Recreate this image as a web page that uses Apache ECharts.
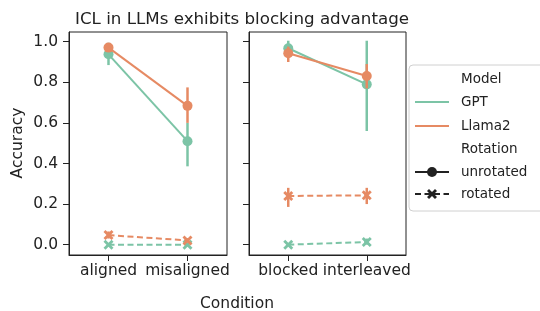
<!DOCTYPE html>
<html>
<head>
<meta charset="utf-8">
<script src="https://cdn.jsdelivr.net/npm/echarts@6/dist/echarts.min.js"></script>
<style>
  html, body { margin: 0; padding: 0; background: #fff; }
  #app { width: 540px; height: 311px; }
</style>
</head>
<body>
<div id="app"></div>
<script>
// categories of each panel
const leftCats = ['aligned', 'misaligned'];
const rightCats = ['blocked', 'interleaved'];
const yTicks = [0, 0.2, 0.4, 0.6, 0.8, 1.0];

// mean accuracy per category
const gptUnrotL = [0.938, 0.51];
const llamaUnrotL = [0.971, 0.684];
const gptRotL = [0.0, 0.0];
const llamaRotL = [0.047, 0.021];

const gptUnrotR = [0.968, 0.79];
const llamaUnrotR = [0.943, 0.831];
const gptRotR = [0.0, 0.013];
const llamaRotR = [0.24, 0.243];

// error bars [low, high]
const gptUnrotErrL = [[0.885, 0.995], [0.386, 0.6]];
const llamaUnrotErrL = [[0.95, 0.99], [0.6, 0.775]];
const gptRotErrL = [[0, 0.005], [0, 0.005]];
const llamaRotErrL = [[0.03, 0.065], [0.01, 0.032]];

const gptUnrotErrR = [[0.93, 1.005], [0.56, 1.005]];
const llamaUnrotErrR = [[0.9, 0.976], [0.77, 0.89]];
const gptRotErrR = [[0, 0.005], [0.0, 0.03]];
const llamaRotErrR = [[0.186, 0.28], [0.2, 0.28]];

const GREEN = '#7cc4a6';
const ORANGE = '#e68a63';
const INK = '#222';
const FONT = 'DejaVu Sans';
const X_SYMBOL = 'path://M2,0 L5,3 L8,0 L10,2 L7,5 L10,8 L8,10 L5,7 L2,10 L0,8 L3,5 L0,2 Z';
const DASH = [6, 3.5];

function lineSeries(name, data, color, rotated, idx) {
  return {
    name: name,
    type: 'line',
    xAxisIndex: idx,
    yAxisIndex: idx,
    data: data,
    symbol: rotated ? X_SYMBOL : 'circle',
    symbolSize: 10,
    showSymbol: true,
    itemStyle: { color: color },
    lineStyle: { color: color, width: 2, type: rotated ? DASH : 'solid' },
    emphasis: { disabled: true },
    z: color === ORANGE ? 4 : 3,
    animation: false
  };
}

function errSeries(errs, color, idx) {
  return {
    type: 'custom',
    xAxisIndex: idx,
    yAxisIndex: idx,
    data: errs.map((e, i) => [i, e[0], e[1]]),
    renderItem: function (params, api) {
      const p0 = api.coord([api.value(0), api.value(1)]);
      const p1 = api.coord([api.value(0), api.value(2)]);
      return {
        type: 'line',
        shape: { x1: p0[0], y1: p0[1], x2: p1[0], y2: p1[1] },
        style: { stroke: color, lineWidth: 2.5 }
      };
    },
    z: color === ORANGE ? 4 : 3,
    animation: false
  };
}

function xAxis(cats, idx) {
  return {
    type: 'category',
    gridIndex: idx,
    data: cats,
    boundaryGap: true,
    axisLine: { show: true, onZero: false, lineStyle: { color: INK, width: 1 } },
    axisTick: { show: true, alignWithLabel: true, length: 6, lineStyle: { color: INK } },
    axisLabel: { color: INK, fontSize: 15.5, fontFamily: FONT, margin: 8, interval: 0 },
    splitLine: { show: false }
  };
}

function yAxis(idx, showLabels) {
  return {
    type: 'value',
    gridIndex: idx,
    min: -0.051,
    max: 1.048,
    axisLine: { show: true, onZero: false, lineStyle: { color: INK, width: 1 } },
    axisTick: { show: true, length: 6, lineStyle: { color: INK }, customValues: yTicks },
    axisLabel: {
      show: showLabels, color: INK, fontSize: 15.5, fontFamily: FONT, margin: 11,
      customValues: yTicks,
      formatter: v => v.toFixed(1)
    },
    splitLine: { show: false }
  };
}

// legend built from graphic elements
const rowY = [79, 102, 126, 149, 172, 194];
const legendFont = '13.5px "DejaVu Sans"';
function legendText(text, y) {
  return { type: 'text', x: 461, y: y, z: 11, style: { text: text, font: legendFont, fill: INK, verticalAlign: 'middle' } };
}
function legendLine(y, color, dashed) {
  return { type: 'line', z: 11, shape: { x1: 415, y1: y, x2: 449, y2: y }, style: { stroke: color, lineWidth: 2, lineDash: dashed ? DASH : null } };
}
const legendGraphic = [
  {
    type: 'rect', x: 409, y: 65, z: 10,
    shape: { x: 0, y: 0, width: 140, height: 146, r: 4 },
    style: { fill: '#fff', stroke: '#d0d0d0', lineWidth: 1 }
  },
  legendText('Model', rowY[0]),
  legendLine(rowY[1], GREEN, false),
  legendText('GPT', rowY[1]),
  legendLine(rowY[2], ORANGE, false),
  legendText('Llama2', rowY[2]),
  legendText('Rotation', rowY[3]),
  legendLine(rowY[4], INK, false),
  { type: 'circle', z: 12, shape: { cx: 432, cy: rowY[4], r: 5 }, style: { fill: INK } },
  legendText('unrotated', rowY[4]),
  legendLine(rowY[5], INK, true),
  {
    type: 'polygon', z: 12, x: 427, y: rowY[5] - 5,
    shape: { points: [[2, 0], [5, 3], [8, 0], [10, 2], [7, 5], [10, 8], [8, 10], [5, 7], [2, 10], [0, 8], [3, 5], [0, 2]] },
    style: { fill: INK }
  },
  legendText('rotated', rowY[5])
];

const myChart = echarts.init(document.getElementById('app'), null, { renderer: 'canvas' });
const option = {
  backgroundColor: '#fff',
  animation: false,
  textStyle: { fontFamily: FONT },
  title: {
    text: 'ICL in LLMs exhibits blocking advantage',
    left: 237, top: 6, textAlign: 'center',
    textStyle: { fontSize: 16.7, fontWeight: 'normal', color: INK, fontFamily: FONT }
  },
  grid: [
    { left: 69, right: 313, top: 32, bottom: 56, show: true, borderColor: INK, borderWidth: 1, backgroundColor: 'transparent' },
    { left: 249, right: 134, top: 32, bottom: 56, show: true, borderColor: INK, borderWidth: 1, backgroundColor: 'transparent' }
  ],
  xAxis: [xAxis(leftCats, 0), xAxis(rightCats, 1)],
  yAxis: [yAxis(0, true), yAxis(1, false)],
  series: [
    errSeries(gptUnrotErrL, GREEN, 0),
    errSeries(gptRotErrL, GREEN, 0),
    lineSeries('GPT', gptUnrotL, GREEN, false, 0),
    lineSeries('GPT', gptRotL, GREEN, true, 0),
    errSeries(llamaUnrotErrL, ORANGE, 0),
    errSeries(llamaRotErrL, ORANGE, 0),
    lineSeries('Llama2', llamaUnrotL, ORANGE, false, 0),
    lineSeries('Llama2', llamaRotL, ORANGE, true, 0),
    errSeries(gptUnrotErrR, GREEN, 1),
    errSeries(gptRotErrR, GREEN, 1),
    lineSeries('GPT', gptUnrotR, GREEN, false, 1),
    lineSeries('GPT', gptRotR, GREEN, true, 1),
    errSeries(llamaUnrotErrR, ORANGE, 1),
    errSeries(llamaRotErrR, ORANGE, 1),
    lineSeries('Llama2', llamaUnrotR, ORANGE, false, 1),
    lineSeries('Llama2', llamaRotR, ORANGE, true, 1)
  ],
  graphic: [
    {
      type: 'text', x: 237, y: 304, z: 5,
      style: { text: 'Condition', font: '15.5px "DejaVu Sans"', fill: INK, align: 'center', verticalAlign: 'middle' }
    },
    {
      type: 'text', rotation: Math.PI / 2, x: 18, y: 143, z: 5,
      style: { text: 'Accuracy', font: '15.5px "DejaVu Sans"', fill: INK, align: 'center', verticalAlign: 'middle' }
    }
  ].concat(legendGraphic)
};

myChart.setOption(option);
</script>
</body>
</html>
